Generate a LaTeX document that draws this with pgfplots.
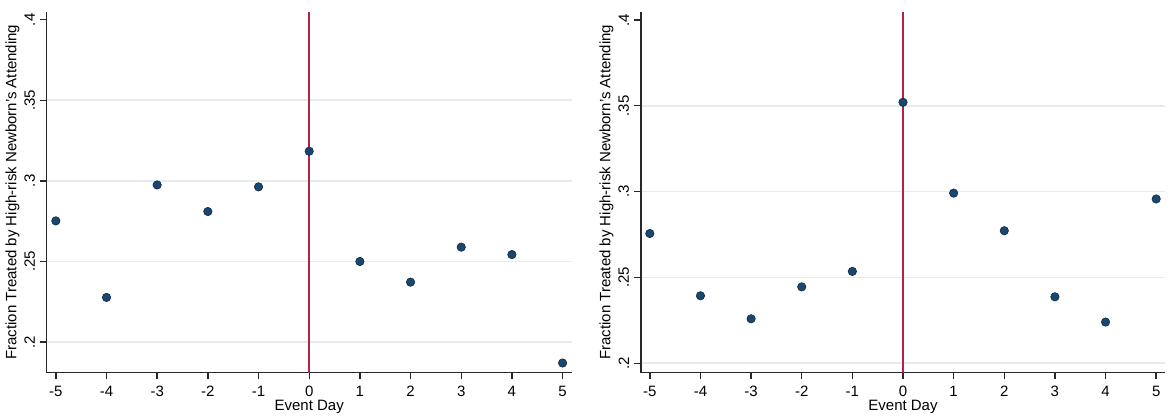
\documentclass[border=0pt]{standalone}
\usepackage{fontspec}
\setmainfont{Liberation Sans}
\usepackage{pgfplots}
\pgfplotsset{compat=1.18}
\definecolor{navyc}{RGB}{26,71,111}
\definecolor{navyd}{RGB}{15,40,66}
\definecolor{redc}{RGB}{178,34,70}
\definecolor{gridc}{RGB}{228,236,239}
\definecolor{axc}{RGB}{40,40,40}
\pgfplotsset{
  stata/.style={
    scale only axis,
    anchor=south west,
    width=525pt, height=361pt,
    xmin=-5.18, xmax=5.18,
    axis x line*=bottom, axis y line*=left,
    axis line style={axc, line width=1.6pt},
    every tick/.style={axc, line width=1.4pt},
    tick align=outside, major tick length=6.5pt,
    xtick={-5,-4,-3,-2,-1,0,1,2,3,4,5},
    xticklabels={-5,-4,-3,-2,-1,0,1,2,3,4,5},
    ytick={0.2,0.25,0.3,0.35},
    yticklabels={.2,.25,.3,.35},
    extra y ticks={0.4}, extra y tick labels={.4},
    extra y tick style={grid=none},
    ymajorgrids,
    major grid style={gridc, line width=1.8pt},
    tick label style={font=\fontsize{15}{17}\selectfont, text=black},
    yticklabel style={xshift=-5pt, rotate=90, anchor=south, inner sep=0pt},
    xticklabel style={anchor=north, inner sep=0pt, yshift=-6.5pt},
    label style={font=\fontsize{15}{17}\selectfont},
    xlabel={Event Day},
    xlabel style={at={(axis description cs:0.5,-0.096)}, anchor=center},
    ylabel={Fraction Treated by High-risk Newborn's Attending},
    ylabel style={at={(axis description cs:-0.065,0.5)}, anchor=center, rotate=0},
    clip=false,
  },
  dots/.style={only marks, mark=*, mark size=4.2pt, mark options={fill=navyc, draw=navyd, line width=0.6pt}},
}
\begin{document}
\begin{tikzpicture}[x=1pt,y=1pt]
\useasboundingbox (0,0) rectangle (1170,419);
\begin{axis}[stata, at={(46.7pt,46.3pt)}, ymin=0.181, ymax=0.405]
\addplot[dots] coordinates {
(-5,0.2752) (-4,0.2277) (-3,0.2975) (-2,0.2810) (-1,0.2963)
(0,0.3184) (1,0.2500) (2,0.2372) (3,0.2589) (4,0.2543) (5,0.1870)};
\addplot[redc, line width=1.6pt] coordinates {(0,0.181) (0,0.405)};
\end{axis}
\begin{axis}[stata, at={(640.7pt,46.3pt)}, ymin=0.1945, ymax=0.4048, width=524.6pt]
\addplot[dots] coordinates {
(-5,0.2756) (-4,0.2393) (-3,0.2259) (-2,0.2445) (-1,0.2535)
(0,0.3520) (1,0.2991) (2,0.2772) (3,0.2387) (4,0.2240) (5,0.2957)};
\addplot[redc, line width=1.6pt] coordinates {(0,0.1945) (0,0.4048)};
\end{axis}
\end{tikzpicture}
\end{document}
